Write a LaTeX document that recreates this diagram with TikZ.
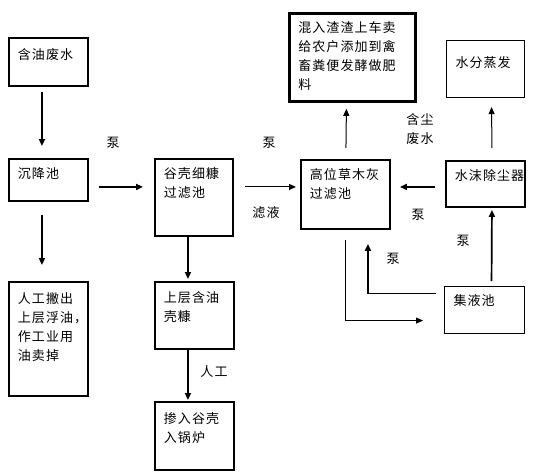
\documentclass[tikz,border=0pt]{standalone}
\usepackage{fontspec}
\newfontfamily\cjk[LetterSpace=8]{Noto Sans CJK SC}
\usetikzlibrary{arrows.meta}
\newcommand{\bxt}[4]{\parbox[c][#2pt][t]{#1pt}{\leftskip=9pt\rightskip=0pt plus 1fil\parindent=0pt\vspace*{#3pt}#4}}
\begin{document}
\begin{tikzpicture}[x=1pt,y=-1pt,
  every node/.style={font=\cjk\fontsize{13}{19}\selectfont},
  box/.style={draw,line width=1.9pt,inner sep=0pt,anchor=north west},
  thinbox/.style={box,line width=1.1pt},
  thickbox/.style={box,line width=2.8pt},
  arr/.style={line width=1.7pt,-{Triangle[length=7pt,width=6pt]}},
  tarr/.style={line width=1pt,-{Triangle[length=7pt,width=6pt]}},
  lbl/.style={inner sep=0pt}]
\useasboundingbox (0,0) rectangle (544,472);
% boxes
\node[box] (A) at (8,37) {\bxt{79}{48}{10.5}{含油废水}};
\node[box] (B) at (8,158) {\bxt{79}{42}{8.5}{沉降池}};
\node[box] (E) at (8,281) {\bxt{79}{114}{10.5}{人工撇出\\上层浮油，\\作工业用\\油卖掉}};
\node[box] (C) at (154,158) {\bxt{78}{77}{8.5}{谷壳细糠\\过滤池}};
\node[box] (F) at (154,281) {\bxt{79}{67}{9.5}{上层含油\\壳糠}};
\node[box] (G) at (154,401) {\bxt{79}{68}{10.5}{掺入谷壳\\入锅炉}};
\node[box] (D) at (300,159) {\bxt{89}{69}{8.5}{高位草木灰\\过滤池}};
\node[box] (H) at (445,160) {\bxt{79}{46}{8.5}{水沫除尘器}};
\node[thickbox] (I) at (288,12) {\bxt{126}{88}{8.5}{混入渣渣上车卖\\给农户添加到禽\\畜粪便发酵做肥\\料}};
\node[thinbox] (J) at (446,40) {\bxt{78}{57}{15.5}{水分蒸发}};
\node[thinbox] (K) at (444,286) {\bxt{80}{47}{7.5}{集液池}};
% connectors
\draw[arr] ([shift={(-6.5,5)}]A.south) -- ([shift={(-6.5,-12)}]B.north);
\draw[arr] ([shift={(-6.5,13)}]B.south) -- ([shift={(-6.5,-16)}]E.north);
\draw[arr] ([shift={(10,7)}]B.east) -- ([shift={(-11,-10.5)}]C.west);
\draw[tarr] ([shift={(11,-10.5)}]C.east) -- ([shift={(-4,-7.5)}]D.west);
\draw[arr] ([shift={(-6,0)}]C.south) -- ([shift={(-6.5,-2)}]F.north);
\draw[arr] ([shift={(-6.5,0)}]F.south) -- ([shift={(-6.5,-1)}]G.north);
\draw[tarr] ([shift={(0.5,-11)}]D.north) -- ([shift={(-6,6)}]I.south);
\draw[arr] ([shift={(-10,3)}]H.west) -- ([shift={(9,-7.5)}]D.east);
\draw[tarr] ([shift={(6.5,-12)}]H.north) -- ([shift={(6,9)}]J.south);
\draw[arr] ([shift={(7,-5)}]K.north) -- ([shift={(6.5,2)}]H.south);
\draw[tarr] ([shift={(0.5,10)}]D.south) |- ([shift={(-21,10.5)}]K.west);
\draw[arr] ([shift={(-8,-16.5)}]K.west) -| ([shift={(22.5,14)}]D.south);
% labels
\node[lbl] (l1) at (113,143) {泵};
\node[lbl] (l2) at (269,143) {泵};
\node[lbl] (l3) at (266,213) {滤液};
\node[lbl,align=center] (l4) at (420,129) {含尘\\废水};
\node[lbl] (l5) at (418,215) {泵};
\node[lbl] (l6) at (463,241) {泵};
\node[lbl] (l7) at (393,259) {泵};
\node[lbl] (l8) at (214,372) {人工};
\end{tikzpicture}
\end{document}
